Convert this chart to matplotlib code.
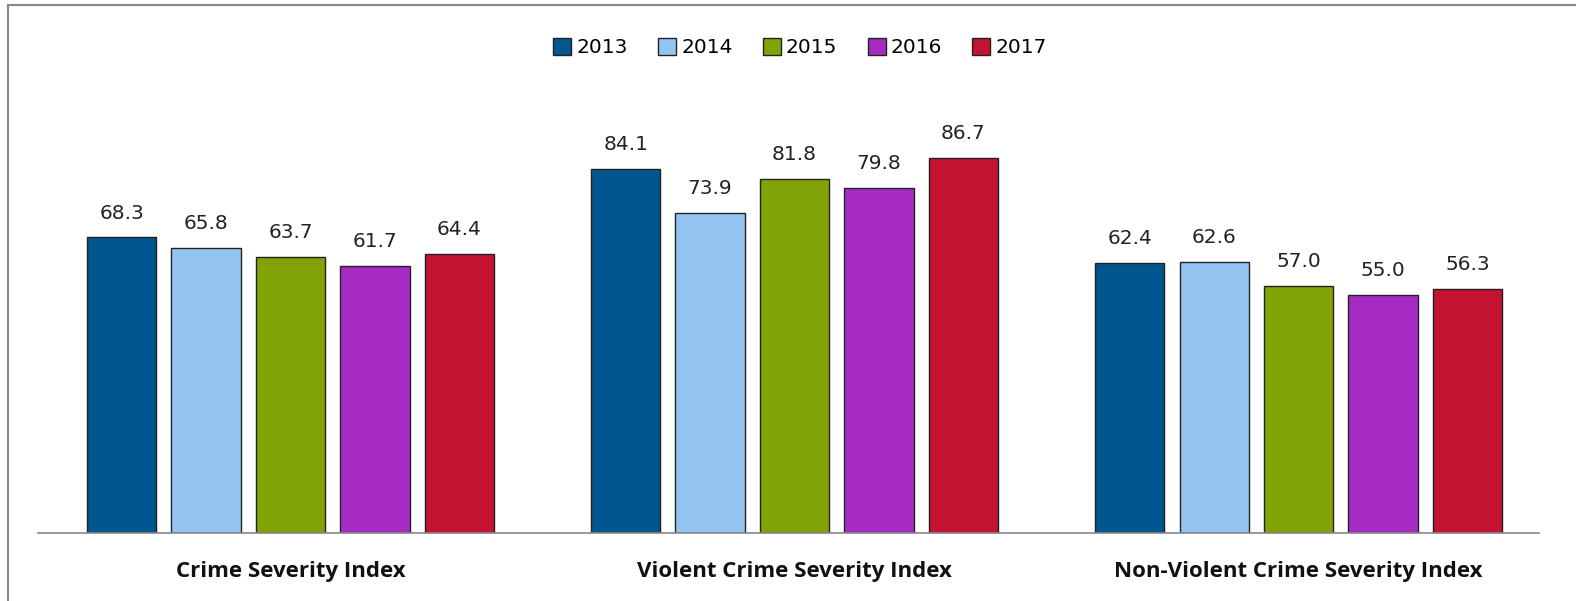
import numpy as np
import matplotlib.pyplot as plt
from matplotlib.patches import Rectangle

plt.rcParams['font.family'] = ['DejaVu Sans']

categories = ["Crime Severity Index", "Violent Crime Severity Index", "Non-Violent Crime Severity Index"]
years = ["2013", "2014", "2015", "2016", "2017"]
v2013 = [68.3, 84.1, 62.4]
v2014 = [65.8, 73.9, 62.6]
v2015 = [63.7, 81.8, 57.0]
v2016 = [61.7, 79.8, 55.0]
v2017 = [64.4, 86.7, 56.3]
colors = ["#02568F", "#94C4F2", "#82A307", "#A62BC2", "#C41332"]

W, H = 1576, 601
fig = plt.figure(figsize=(W / 100, H / 100), dpi=100)
ax = fig.add_axes([38.5 / W, 68.3 / H, 1500 / W, 432.5 / H])

x = np.arange(len(categories))
step = 0.1675
width = 0.1375
series = [v2013, v2014, v2015, v2016, v2017]
for i, (yr, vals, c) in enumerate(zip(years, series, colors)):
	pos = x + (i - 2) * step
	bars = ax.bar(pos, vals, width, color=c, edgecolor="#222222", linewidth=1.0, label=yr)
	for b, v in zip(bars, vals):
		ax.text(b.get_x() + b.get_width() / 2, v + 3.4, f"{v:.1f}", ha="center", va="bottom",
				fontsize=14.5, color="#222222")

ax.set_xlim(-0.5, 2.476)
ax.set_ylim(0, 100)
ax.set_yticks([])
ax.set_xticks(x)
ax.set_xticklabels(categories, fontsize=16, fontweight="bold", color="#111111",
				   family=["Open Sans", "DejaVu Sans"])
ax.tick_params(axis="x", length=0, pad=20.5)
for s in ["top", "right", "left"]:
	ax.spines[s].set_visible(False)
ax.spines["bottom"].set_color("#888888")
ax.spines["bottom"].set_linewidth(1.2)

fig.legend(loc="upper center", bbox_to_anchor=(0.5 + 12 / W, 1 - 20 / H), ncol=5, frameon=False,
		   fontsize=14.5, handlelength=0.9, handleheight=0.9, handletextpad=0.25, columnspacing=1.5)

# outer border of the chart area
fig.patches.append(Rectangle((8 / W, -0.1), 1.2, 1.1 - 5 / H, transform=fig.transFigure,
							 fill=False, edgecolor="#888888", linewidth=1.5))

fig.savefig("out.png", dpi=100)
